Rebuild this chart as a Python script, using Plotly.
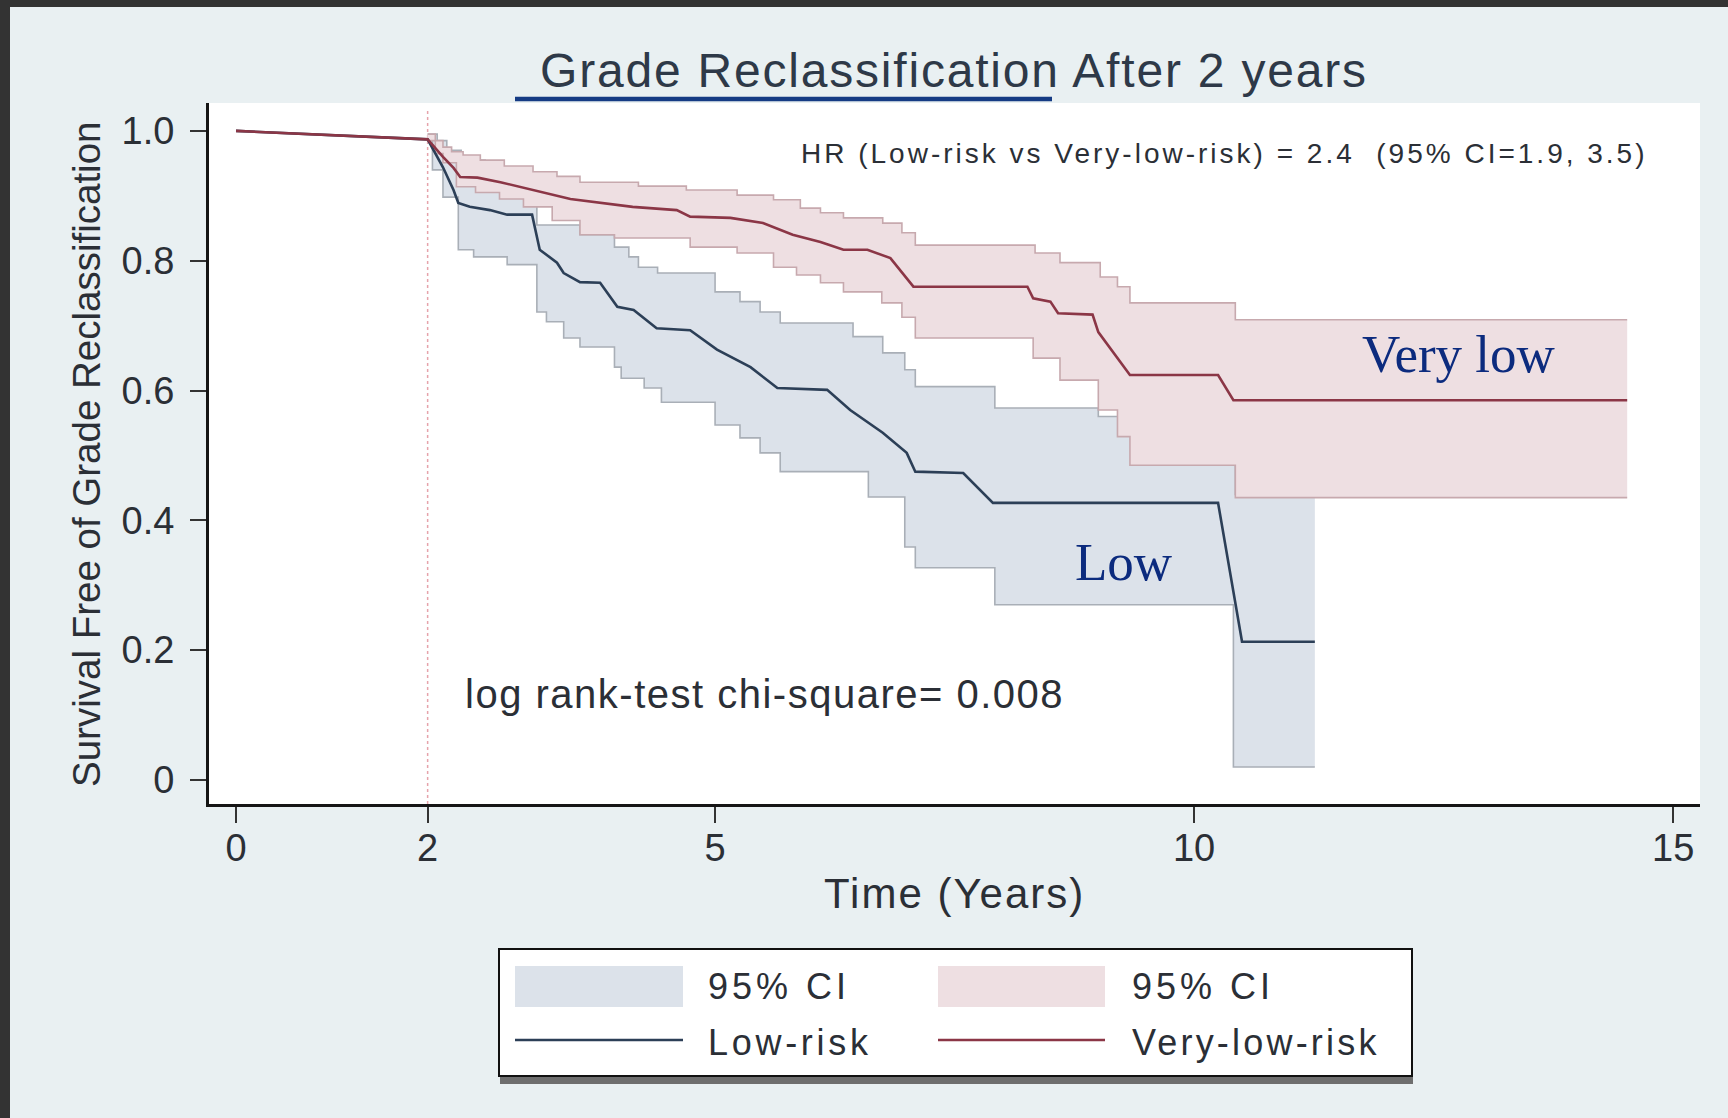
import plotly.graph_objects as go

# ---------------- data ----------------
lr_time = [0.0, 2.0, 2.16, 2.27, 2.32, 2.44, 2.65, 2.83, 3.09, 3.17, 3.35, 3.42, 3.59, 3.80, 3.98, 4.15,
           4.39, 4.74, 5.02, 5.37, 5.65, 6.17, 6.41, 6.75, 7.00, 7.09, 7.59, 7.90, 10.25, 10.50, 11.26]
lr_surv = [1.0, 0.987, 0.944, 0.909, 0.889, 0.883, 0.878, 0.871, 0.871, 0.817, 0.797, 0.781, 0.767, 0.766,
           0.729, 0.724, 0.696, 0.693, 0.663, 0.636, 0.604, 0.601, 0.570, 0.535, 0.504, 0.475, 0.473,
           0.427, 0.427, 0.213, 0.213]

vlr_time = [0.0, 2.0, 2.16, 2.27, 2.34, 2.52, 2.76, 3.10, 3.49, 4.14, 4.60, 4.74, 5.16, 5.50, 5.81, 6.10,
            6.34, 6.59, 6.83, 7.07, 8.26, 8.32, 8.50, 8.58, 8.94, 9.00, 9.33, 10.25, 10.41, 14.52]
vlr_surv = [1.0, 0.987, 0.960, 0.943, 0.929, 0.928, 0.921, 0.909, 0.895, 0.883, 0.878, 0.868, 0.866, 0.858,
            0.840, 0.829, 0.817, 0.817, 0.804, 0.760, 0.760, 0.742, 0.737, 0.719, 0.717, 0.690, 0.624,
            0.624, 0.585, 0.585]

# 95% CI step bounds (change times, values)
lr_hi_t = [2.0, 2.1, 2.2, 2.35, 2.6, 2.9, 3.14, 3.59, 3.95, 4.1, 4.2, 4.4, 5.0, 5.26, 5.47, 5.68, 6.44,
           6.75, 6.98, 7.09, 7.92, 9.0, 10.43]
lr_hi_v = [0.995, 0.985, 0.97, 0.955, 0.94, 0.92, 0.855, 0.840, 0.821, 0.806, 0.790, 0.781, 0.752, 0.737,
           0.721, 0.704, 0.683, 0.658, 0.632, 0.606, 0.573, 0.56, 0.44]
lr_lo_t = [2.0, 2.05, 2.16, 2.32, 2.48, 2.83, 3.14, 3.24, 3.42, 3.59, 3.95, 4.02, 4.26, 4.44, 5.0, 5.26,
           5.47, 5.68, 6.6, 6.98, 7.09, 7.92, 10.41]
lr_lo_v = [0.985, 0.94, 0.898, 0.817, 0.806, 0.794, 0.721, 0.706, 0.681, 0.667, 0.636, 0.619, 0.604, 0.582,
           0.547, 0.527, 0.504, 0.475, 0.436, 0.359, 0.327, 0.270, 0.020]
lr_end = 11.26

vlr_hi_t = [2.0, 2.08, 2.16, 2.25, 2.37, 2.55, 2.8, 3.1, 3.35, 3.59, 4.2, 4.7, 5.23, 5.61, 5.89, 6.1, 6.34,
            6.75, 6.95, 7.09, 8.34, 8.6, 9.02, 9.2, 9.33, 10.43]
vlr_hi_v = [0.995, 0.985, 0.975, 0.968, 0.963, 0.955, 0.946, 0.937, 0.93, 0.921, 0.915, 0.909, 0.901, 0.894,
            0.881, 0.874, 0.866, 0.858, 0.843, 0.824, 0.812, 0.797, 0.775, 0.760, 0.735, 0.709]
vlr_lo_t = [2.0, 2.08, 2.16, 2.3, 2.5, 2.75, 3.0, 3.3, 3.59, 3.95, 4.74, 5.23, 5.61, 5.85, 6.1, 6.34, 6.74,
            6.95, 7.09, 8.32, 8.6, 9.0, 9.2, 9.33, 10.43]
vlr_lo_v = [0.985, 0.965, 0.951, 0.914, 0.905, 0.895, 0.883, 0.862, 0.840, 0.835, 0.821, 0.812, 0.790, 0.778,
            0.766, 0.752, 0.735, 0.713, 0.681, 0.650, 0.616, 0.570, 0.529, 0.485, 0.435]
vlr_end = 14.52

x_tickvals = [0, 2, 5, 10, 15]
x_ticktext = ["0", "2", "5", "10", "15"]
y_tickvals = [0, 0.2, 0.4, 0.6, 0.8, 1.0]
y_ticktext = ["0", "0.2", "0.4", "0.6", "0.8", "1.0"]

# ---------------- styles ----------------
W, H = 1728, 1118
PL, PR, PT, PB = 209, 1700, 103, 804
BG = "#e9f0f2"
BLUE_FILL = "#dce2ea"
BLUE_EDGE = "#a9afb7"
PINK_FILL = "#eedfe2"
PINK_EDGE = "#c7a9ae"
BLUE_LINE = "#2c3f57"
RED_LINE = "#8b3646"
SANS = "Liberation Sans, Arial, sans-serif"
SERIF = "Liberation Serif, Times New Roman, serif"
TXT = "#2b2f36"


def px(x):
    return (x - PL) / (PR - PL)


def py(y):
    return (PB - y) / (PB - PT)


def sp(text, ls):
    return '<span style="letter-spacing:%spx">%s</span>' % (ls, text)


def steps(t, v, t_end):
    xs, ys = [], []
    for i in range(len(t)):
        x1 = t[i + 1] if i + 1 < len(t) else t_end
        xs += [t[i], x1]
        ys += [v[i], v[i]]
    return xs, ys


fig = go.Figure()


def add_band(hi_t, hi_v, lo_t, lo_v, t_end, fill, edge):
    hx, hy = steps(hi_t, hi_v, t_end)
    lx, ly = steps(lo_t, lo_v, t_end)
    fig.add_trace(go.Scatter(x=hx + lx[::-1], y=hy + ly[::-1], fill="toself", fillcolor=fill,
                             line=dict(width=0), mode="lines", hoverinfo="skip"))
    for xs, ys in ((hx, hy), (lx, ly)):
        fig.add_trace(go.Scatter(x=xs, y=ys, mode="lines", line=dict(color=edge, width=1.6),
                                 hoverinfo="skip"))


add_band(lr_hi_t, lr_hi_v, lr_lo_t, lr_lo_v, lr_end, BLUE_FILL, BLUE_EDGE)
add_band(vlr_hi_t, vlr_hi_v, vlr_lo_t, vlr_lo_v, vlr_end, PINK_FILL, PINK_EDGE)

fig.add_trace(go.Scatter(x=lr_time, y=lr_surv, mode="lines", name="Low-risk",
                         line=dict(color=BLUE_LINE, width=2.6)))
fig.add_trace(go.Scatter(x=vlr_time, y=vlr_surv, mode="lines", name="Very-low-risk",
                         line=dict(color=RED_LINE, width=2.6)))

shapes = []
# dark frame
shapes.append(dict(type="rect", xref="paper", yref="paper", x0=px(0), x1=px(10), y0=py(H), y1=py(0),
                   fillcolor="#333333", line=dict(width=0), layer="above"))
shapes.append(dict(type="rect", xref="paper", yref="paper", x0=px(0), x1=px(W), y0=py(7), y1=py(0),
                   fillcolor="#333333", line=dict(width=0), layer="above"))
# title underline
shapes.append(dict(type="line", xref="paper", yref="paper", x0=px(515), x1=px(1052), y0=py(99), y1=py(99),
                   line=dict(color="#153b84", width=4.5)))
# reference line at 2 years
shapes.append(dict(type="line", xref="x", yref="paper", x0=2, x1=2, y0=0, y1=py(110),
                   line=dict(color="#e6a3ab", width=1.5, dash="dot"), layer="below"))
# legend box
shapes.append(dict(type="rect", xref="paper", yref="paper", x0=px(500), x1=px(1413), y0=py(1084), y1=py(1074),
                   fillcolor="#6e6e6e", line=dict(width=0)))
shapes.append(dict(type="rect", xref="paper", yref="paper", x0=px(499), x1=px(1412), y0=py(1076), y1=py(949),
                   fillcolor="white", line=dict(color="#111111", width=2)))
shapes.append(dict(type="rect", xref="paper", yref="paper", x0=px(515), x1=px(683), y0=py(1007), y1=py(966),
                   fillcolor=BLUE_FILL, line=dict(width=0)))
shapes.append(dict(type="rect", xref="paper", yref="paper", x0=px(938), x1=px(1105), y0=py(1007), y1=py(966),
                   fillcolor=PINK_FILL, line=dict(width=0)))
shapes.append(dict(type="line", xref="paper", yref="paper", x0=px(515), x1=px(683), y0=py(1040), y1=py(1040),
                   line=dict(color=BLUE_LINE, width=2.6)))
shapes.append(dict(type="line", xref="paper", yref="paper", x0=px(938), x1=px(1105), y0=py(1040), y1=py(1040),
                   line=dict(color=RED_LINE, width=2.6)))

ann = []


def add_text(text, x, y, size, family=SANS, color=TXT, xanchor="center", angle=0):
    ann.append(dict(text=text, x=px(x), y=py(y), xref="paper", yref="paper", showarrow=False,
                    xanchor=xanchor, yanchor="middle", textangle=angle,
                    font=dict(family=family, size=size, color=color)))


add_text(sp("Grade Reclassification After 2 years", 1.8), 954, 71, 48, color="#2e3948")
add_text(sp("HR (Low-risk vs Very-low-risk) = 2.4&nbsp;&nbsp;(95% CI=1.9, 3.5)", 3.0), 799, 153, 28,
         xanchor="left")
add_text(sp("log rank-test chi-square= 0.008", 1.5), 463, 694, 40, xanchor="left")
add_text("Very low", 1360, 354, 53, family=SERIF, color="#0c2b7e", xanchor="left")
add_text("Low", 1073, 562, 53, family=SERIF, color="#0c2b7e", xanchor="left")
add_text(sp("Time (Years)", 2), 954, 894, 42)
add_text("Survival Free of Grade Reclassification", 86, 455, 38.5, angle=-90)
add_text(sp("95% CI", 4), 706, 986, 36, xanchor="left")
add_text(sp("95% CI", 4), 1130, 986, 36, xanchor="left")
add_text(sp("Low-risk", 3.7), 706, 1042, 36, xanchor="left")
add_text(sp("Very-low-risk", 3.2), 1130, 1042, 36, xanchor="left")

axis_common = dict(showgrid=False, zeroline=False, showline=True, linecolor="#151515", linewidth=3,
                   ticks="outside", ticklen=16, tickwidth=2, tickcolor="#333333",
                   tickfont=dict(family=SANS, size=38, color=TXT))

fig.update_layout(
    width=W, height=H, autosize=False,
    margin=dict(l=PL, r=W - PR, t=PT, b=H - PB, pad=0),
    paper_bgcolor=BG, plot_bgcolor="white",
    showlegend=False,
    xaxis=dict(range=[-0.282, 15.28], tickvals=x_tickvals, ticktext=x_ticktext,
               ticklabelstandoff=-8, **axis_common),
    yaxis=dict(range=[-0.037, 1.043], tickvals=y_tickvals, ticktext=y_ticktext,
               ticklabelstandoff=8, **axis_common),
    shapes=shapes, annotations=ann,
)

fig.write_html("out.html", config={"displayModeBar": False},
               post_script="document.body.style.margin='0';document.body.style.overflow='hidden';")
